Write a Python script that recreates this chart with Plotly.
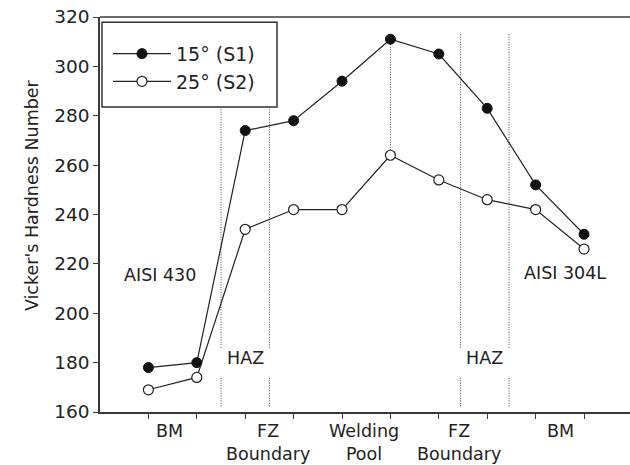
import plotly.graph_objects as go

# Measurement positions across the weld (one per indentation)
positions = list(range(1, 11))

# Vickers hardness for the two bevel angles
s1_name = "15° (S1)"
s2_name = "25° (S2)"
s1_hv = [178, 180, 274, 278, 294, 311, 305, 283, 252, 232]
s2_hv = [169, 174, 234, 242, 242, 264, 254, 246, 242, 226]

# Zone captions under the x axis
zone_labels = ["BM", "FZ<br>Boundary", "Welding<br>Pool", "FZ<br>Boundary", "BM"]
zone_label_x = [1.43, 3.47, 5.46, 7.42, 9.52]

# HAZ boundaries (dotted verticals) and the weld centre line
haz_bounds = [2.5, 3.5, 7.45, 8.45]
haz_label_x = [3.0, 7.95]
centre_idx = 5

y_ticks = [160, 180, 200, 220, 240, 260, 280, 300, 320]

INK = "#222222"
AXIS = "#3a3a3a"
FONT = "DejaVu Sans"

fig = go.Figure()
fig.add_trace(go.Scatter(
    x=positions, y=s1_hv, name=s1_name, mode="lines+markers",
    line=dict(color=INK, width=1.2),
    marker=dict(symbol="circle", size=10, color="#111111",
                line=dict(color="#111111", width=1)),
))
fig.add_trace(go.Scatter(
    x=positions, y=s2_hv, name=s2_name, mode="lines+markers",
    line=dict(color=INK, width=1.2),
    marker=dict(symbol="circle", size=10, color="white",
                line=dict(color=INK, width=1.2)),
))

shapes = []
dot = dict(color="#444444", width=1, dash="1px,1.5px")
for xb in haz_bounds:
    shapes.append(dict(type="line", xref="x", yref="y", x0=xb, x1=xb,
                       y0=186, y1=313, line=dot, layer="below"))
    shapes.append(dict(type="line", xref="x", yref="y", x0=xb, x1=xb,
                       y0=162.3, y1=174.5, line=dot, layer="below"))
# weld centre line between the two peaks
shapes.append(dict(type="line", xref="x", yref="y",
                   x0=positions[centre_idx], x1=positions[centre_idx],
                   y0=s2_hv[centre_idx], y1=s1_hv[centre_idx],
                   line=dot, layer="below"))
# top frame line
shapes.append(dict(type="line", xref="paper", yref="paper", x0=0, x1=1,
                   y0=1, y1=1, line=dict(color=AXIS, width=1.5)))
# legend frame
shapes.append(dict(type="rect", xref="paper", yref="paper",
                   x0=0.0038, x1=0.334, y0=0.772, y1=0.987,
                   fillcolor="white", line=dict(color="#333333", width=1.5),
                   layer="above"))
fig.update_layout(shapes=shapes)

annotations = []
for txt, xv in zip(zone_labels, zone_label_x):
    annotations.append(dict(x=xv, y=0, xref="x", yref="paper", text=txt,
                            showarrow=False, yanchor="top", yshift=-7,
                            font=dict(family=FONT, size=17.5, color=INK)))
for xv in haz_label_x:
    annotations.append(dict(x=xv, y=181.9, xref="x", yref="y", text="HAZ",
                            showarrow=False,
                            font=dict(family=FONT, size=17.5, color=INK)))
annotations.append(dict(x=1.23, y=215.5, xref="x", yref="y", text="AISI 430",
                        showarrow=False, font=dict(family=FONT, size=17.5, color=INK)))
annotations.append(dict(x=9.6, y=216.4, xref="x", yref="y", text="AISI 304L",
                        showarrow=False, font=dict(family=FONT, size=17.5, color=INK)))
annotations.append(dict(x=-0.151, y=0.549, xref="paper", yref="paper",
                        text="Vicker's Hardness Number", textangle=-90,
                        showarrow=False, font=dict(family=FONT, size=17.5, color=INK)))
fig.update_layout(annotations=annotations)

fig.update_layout(
    width=630, height=465,
    margin=dict(l=100, r=0, t=17, b=53),
    paper_bgcolor="white", plot_bgcolor="white",
    font=dict(family=FONT, color=INK),
    showlegend=True,
    legend=dict(x=0.0151, y=0.955, xanchor="left", yanchor="top",
                bgcolor="rgba(0,0,0,0)", borderwidth=0,
                font=dict(family=FONT, size=19, color=INK),
                itemwidth=58, tracegroupgap=0),
    xaxis=dict(range=[0, 10.95], tickvals=positions, ticktext=[""] * len(positions),
               showgrid=False, zeroline=False, showline=True,
               linecolor=AXIS, linewidth=1.5, ticks="outside", ticklen=5,
               tickcolor=AXIS, tickwidth=1.2),
    yaxis=dict(range=[160, 320], tickvals=y_ticks, showgrid=False, zeroline=False,
               showline=True, linecolor=AXIS, linewidth=1.5, ticks="outside",
               ticklen=5, tickcolor=AXIS, tickwidth=1.2,
               tickfont=dict(family=FONT, size=18.5, color=INK)),
)

fig.write_html("out.html")
